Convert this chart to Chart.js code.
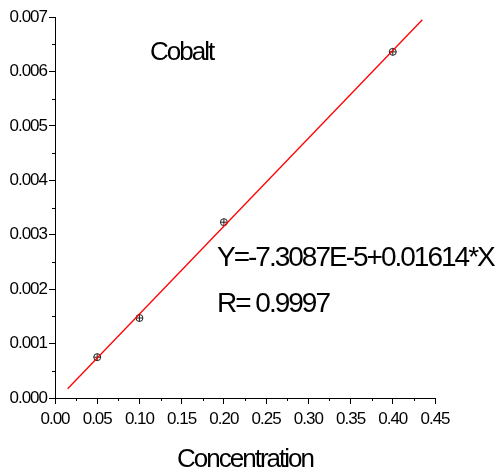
<!DOCTYPE html>
<html>
<head>
<meta charset="utf-8">
<script src="https://cdn.jsdelivr.net/npm/chart.js@4/dist/chart.umd.min.js"></script>
<style>
  html, body { margin: 0; padding: 0; background: #fff; }
  #wrap { width: 498px; height: 474px; }
</style>
</head>
<body>
<div id="wrap"><canvas id="c" width="498" height="474"></canvas></div>
<script>
// measured points (concentration, absorbance)
const concentration = [0.05, 0.1, 0.2, 0.4];
const signal = [0.00075, 0.00147, 0.00323, 0.00636];

// fitted line, endpoints
const fitX = [0.015, 0.435];
const fitY = [0.00017, 0.00695];

const xTicks = [0, 0.05, 0.1, 0.15, 0.2, 0.25, 0.3, 0.35, 0.4, 0.45];
const yTicks = [0, 0.001, 0.002, 0.003, 0.004, 0.005, 0.006, 0.007];

const FONT = "'Liberation Sans', Arial, sans-serif";

const pts = concentration.map((x, i) => ({ x, y: signal[i] }));
const fit = fitX.map((x, i) => ({ x, y: fitY[i] }));

const extras = {
  id: "extras",
  beforeDraw(chart) {
    chart.ctx.letterSpacing = "-1px";
  },
  afterDraw(chart) {
    const ctx = chart.ctx;
    const xs = chart.scales.x;
    const ys = chart.scales.y;
    ctx.save();
    ctx.strokeStyle = "#000";
    ctx.lineWidth = 1;
    // minor ticks
    ctx.beginPath();
    for (let i = 0; i < xTicks.length - 1; i++) {
      const px = Math.round(xs.getPixelForValue((xTicks[i] + xTicks[i + 1]) / 2)) + 0.5;
      ctx.moveTo(px, ys.bottom);
      ctx.lineTo(px, ys.bottom + 3);
    }
    for (let i = 0; i < yTicks.length - 1; i++) {
      const py = Math.round(ys.getPixelForValue((yTicks[i] + yTicks[i + 1]) / 2)) + 0.5;
      ctx.moveTo(xs.left, py);
      ctx.lineTo(xs.left - 3, py);
    }
    ctx.stroke();

    ctx.fillStyle = "#000";
    ctx.textBaseline = "alphabetic";
    ctx.letterSpacing = "-2px";
    ctx.textAlign = "left";
    ctx.font = `26px ${FONT}`;
    ctx.fillText("Cobalt", 150, 60);
    ctx.font = `28px ${FONT}`;
    ctx.fillText("Y=-7.3087E-5+0.01614*X", 217, 266);
    ctx.fillText("R= 0.9997", 217, 312);
    ctx.textAlign = "center";
    ctx.font = `26px ${FONT}`;
    ctx.fillText("Concentration", (xs.left + xs.right) / 2, 467);
    ctx.restore();
  },
};

new Chart(document.getElementById("c"), {
  type: "scatter",
  data: {
    datasets: [
      {
        type: "line",
        data: fit,
        borderColor: "#ff0000",
        borderWidth: 1.3,
        pointRadius: 0,
        fill: false,
      },
      {
        data: pts,
        pointStyle: "circle",
        pointRadius: 3.5,
        borderColor: "#222",
        borderWidth: 1,
        backgroundColor: "rgba(255,255,255,0)",
      },
      {
        data: pts,
        pointStyle: "cross",
        pointRadius: 3.5,
        borderColor: "#222",
        borderWidth: 1,
      },
    ],
  },
  options: {
    responsive: false,
    animation: false,
    layout: { padding: { top: 17, right: 63, left: 0, bottom: 0 } },
    plugins: { legend: { display: false }, tooltip: { enabled: false } },
    scales: {
      x: {
        type: "linear",
        min: 0,
        max: 0.45,
        afterBuildTicks: (s) => { s.ticks = xTicks.map((v) => ({ value: v })); },
        afterFit: (s) => { s.height = 76; },
        border: { display: true, color: "#000", width: 1 },
        grid: { display: true, drawOnChartArea: false, drawTicks: true, tickLength: 6, tickColor: "#000" },
        ticks: {
          color: "#000",
          font: { family: FONT, size: 17 },
          padding: 5,
          maxRotation: 0,
          callback: (v) => v.toFixed(2),
        },
      },
      y: {
        min: 0,
        max: 0.007,
        afterBuildTicks: (s) => { s.ticks = yTicks.map((v) => ({ value: v })); },
        afterFit: (s) => { s.width = 55; },
        border: { display: true, color: "#000", width: 1 },
        grid: { display: true, drawOnChartArea: false, drawTicks: true, tickLength: 6, tickColor: "#000" },
        ticks: {
          color: "#000",
          font: { family: FONT, size: 17 },
          padding: 2,
          callback: (v) => v.toFixed(3),
        },
      },
    },
  },
  plugins: [extras],
});
</script>
</body>
</html>
